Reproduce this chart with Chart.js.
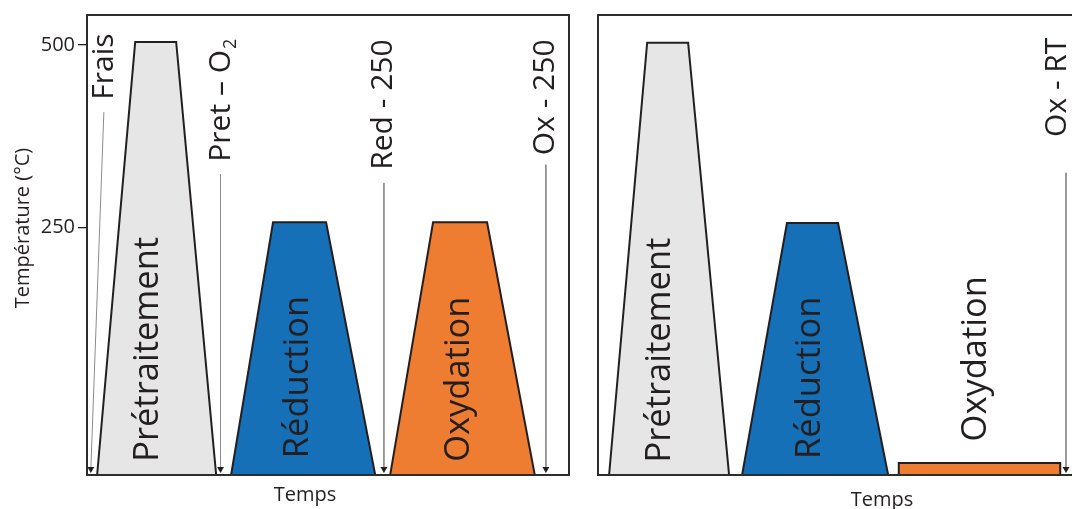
<!DOCTYPE html>
<html><head><meta charset="utf-8">
<script src="https://cdn.jsdelivr.net/npm/chart.js@4"></script>
<style>
html,body{margin:0;padding:0;width:1072px;height:509px;overflow:hidden;background:#fff}
#c1{position:absolute;left:0;top:0;width:590px;height:509px}
#c2{position:absolute;left:590px;top:0;width:500px;height:514px}
</style></head><body>
<canvas id="c1" width="590" height="509"></canvas>
<canvas id="c2" width="500" height="514"></canvas>
<script>
// ---------- data (time in arbitrary units 0-100, temperature in °C) ----------
const phaseNames = ['Prétraitement', 'Réduction', 'Oxydation'];
const yTickValues = [250, 500];
const yTitle = 'Température (°C)';
const xTitle = 'Temps';

// left panel
const leftPretTime = [2.1, 10.0, 18.5, 26.8];
const leftPretTemp = [-89, 504, 504, -89];
const leftRedTime  = [29.9, 38.6, 49.6, 59.8];
const leftRedTemp  = [-89, 257, 257, -89];
const leftOxTime   = [62.9, 71.8, 83.0, 92.9];
const leftOxTemp   = [-89, 257, 257, -89];
const leftSampleNames = ['Frais', 'Pret – O₂', 'Red - 250', 'Ox - 250'];
const leftSampleTopTime = [3.5, 27.7, 61.6, 95.2];
const leftSampleEndTime = [0.8, 27.7, 61.6, 95.2];
const leftSampleTopTemp = [408, 323, 311, 336];

// right panel
const rightPretTime = [2.3, 10.2, 18.7, 27.2];
const rightPretTemp = [-89, 503, 503, -89];
const rightRedTime  = [29.9, 39.2, 49.8, 60.2];
const rightRedTemp  = [-89, 256, 256, -89];
const rightOxTime   = [62.4, 62.4, 95.9, 95.9];
const rightOxTemp   = [-89, -72.6, -72.6, -89];
const rightSampleNames = ['Ox - RT'];
const rightSampleTopTime = [97.1];
const rightSampleEndTime = [97.1];
const rightSampleTopTemp = [325];

const sampleEndTemp = -80.8;
const axisMin = -89, axisMax = 541;

// ---------- styles / layout ----------
const FONT = "'Open Sans', 'Noto Sans', sans-serif";
const INK = '#231f20';
const phaseColors = ['#e6e6e6', '#1570b8', '#ef7d31'];
// label anchors (time, temperature at the start of the rotated text)
const leftPhaseAnchor  = [[12.7, -71], [43.8, -66], [77.2, -71]];
const rightPhaseAnchor = [[12.9, -72], [44.0, -67], [78.4, -43]];
const leftSampleAnchor  = [[3.7, 425], [27.9, 340], [61.5, 329], [95.2, 349]];
const rightSampleAnchor = [[95.4, 374]];

function pts(xs, ys){ return xs.map((x,i)=>({x, y: ys[i]})); }

function shapeDataset(xs, ys, color){
  return {data: pts(xs, ys), showLine: true, fill: 'start', backgroundColor: color,
    borderColor: INK, borderWidth: 2, pointRadius: 0, tension: 0, borderJoinStyle: 'miter'};
}
function arrowDataset(x0, x1, y0){
  return {data: [{x:x0, y:y0}, {x:x1, y:sampleEndTemp}], showLine: true, fill: false,
    borderColor: '#8c8c8c', borderWidth: 1, tension: 0,
    pointStyle: 'triangle', pointRotation: 180,
    pointRadius: c => c.dataIndex === 1 ? 4 : 0,
    pointBackgroundColor: INK, pointBorderColor: INK, pointBorderWidth: 0};
}

function drawRotated(ctx, text, px, py, size){
  ctx.save();
  ctx.translate(px, py);
  ctx.rotate(-Math.PI/2);
  ctx.fillStyle = INK;
  ctx.textBaseline = 'middle';
  ctx.textAlign = 'left';
  ctx.font = size + 'px ' + FONT;
  const parts = text.split('₂');
  ctx.fillText(parts[0], 0, 0);
  if (parts.length > 1){
    const w = ctx.measureText(parts[0]).width;
    ctx.font = Math.round(size*0.6) + 'px ' + FONT;
    ctx.fillText('2', w + 1, size*0.3);
  }
  ctx.restore();
}

function makePlugin(opts){
  return {
    id: 'decor',
    afterDatasetsDraw(chart){
      const {ctx, chartArea: a, scales: {x, y}} = chart;
      ctx.save();
      ctx.strokeStyle = '#2d2d2d';
      ctx.lineWidth = 2;
      ctx.strokeRect(a.left, a.top, a.right - a.left, a.bottom - a.top);
      ctx.restore();
      opts.phaseAnchor.forEach((p, i) =>
        drawRotated(ctx, phaseNames[i], x.getPixelForValue(p[0]), y.getPixelForValue(p[1]), 34.5));
      opts.sampleAnchor.forEach((p, i) =>
        drawRotated(ctx, opts.sampleNames[i], x.getPixelForValue(p[0]), y.getPixelForValue(p[1]), 30));
      // axis titles
      ctx.save();
      ctx.fillStyle = INK;
      ctx.font = '20px ' + FONT;
      ctx.textAlign = 'center';
      ctx.textBaseline = 'middle';
      ctx.fillText(xTitle, opts.xTitlePos[0], opts.xTitlePos[1]);
      if (opts.yTitlePos){
        ctx.translate(opts.yTitlePos[0], opts.yTitlePos[1]);
        ctx.rotate(-Math.PI/2);
        ctx.fillText(yTitle, 0, 0);
      }
      ctx.restore();
    }
  };
}

function makeChart(id, datasets, opts){
  return new Chart(document.getElementById(id), {
    type: 'scatter',
    data: {datasets},
    options: {
      responsive: false, animation: false, events: [],
      layout: {padding: opts.padding},
      plugins: {legend: {display: false}, tooltip: {enabled: false}},
      scales: {
        x: {type: 'linear', min: 0, max: 100,
            ticks: {display: false}, grid: {display: false}, border: {display: false},
            afterFit: s => { s.height = opts.xHeight; }},
        y: {type: 'linear', min: axisMin, max: axisMax,
            afterBuildTicks: s => { s.ticks = opts.showTicks ? yTickValues.map(v => ({value: v})) : []; },
            ticks: {display: opts.showTicks, color: INK, padding: 3, font: {family: FONT, size: 20}},
            grid: {display: opts.showTicks, drawOnChartArea: false, tickLength: 9, color: INK, lineWidth: 1.3},
            border: {display: false},
            afterFit: s => { s.width = opts.yWidth; }}
      }
    },
    plugins: [makePlugin(opts)]
  });
}

makeChart('c1', [
  shapeDataset(leftPretTime, leftPretTemp, phaseColors[0]),
  shapeDataset(leftRedTime, leftRedTemp, phaseColors[1]),
  shapeDataset(leftOxTime, leftOxTemp, phaseColors[2]),
  ...leftSampleNames.map((n, i) => arrowDataset(leftSampleTopTime[i], leftSampleEndTime[i], leftSampleTopTemp[i]))
], {padding: {top: 15, right: 21, left: 0, bottom: 0}, xHeight: 34, yWidth: 87, showTicks: true,
    phaseAnchor: leftPhaseAnchor, sampleAnchor: leftSampleAnchor, sampleNames: leftSampleNames,
    xTitlePos: [305, 495], yTitlePos: [23, 228]});

makeChart('c2', [
  shapeDataset(rightPretTime, rightPretTemp, phaseColors[0]),
  shapeDataset(rightRedTime, rightRedTemp, phaseColors[1]),
  shapeDataset(rightOxTime, rightOxTemp, phaseColors[2]),
  ...rightSampleNames.map((n, i) => arrowDataset(rightSampleTopTime[i], rightSampleEndTime[i], rightSampleTopTemp[i]))
], {padding: {top: 15, right: 10, left: 0, bottom: 0}, xHeight: 39, yWidth: 8, showTicks: false,
    phaseAnchor: rightPhaseAnchor, sampleAnchor: rightSampleAnchor, sampleNames: rightSampleNames,
    xTitlePos: [292, 500], yTitlePos: null});
</script></body></html>
